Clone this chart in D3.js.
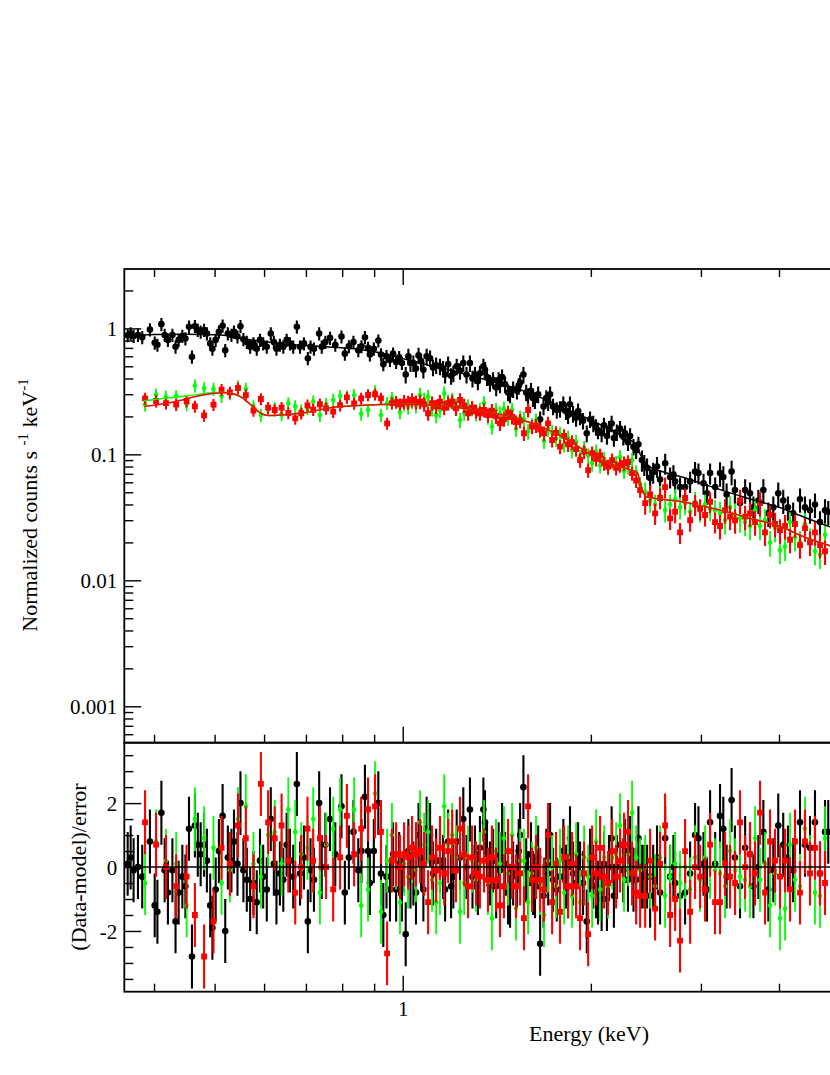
<!DOCTYPE html>
<html><head><meta charset="utf-8">
<script src="https://cdn.jsdelivr.net/npm/d3@7"></script>
<style>html,body{margin:0;padding:0;background:#fff;overflow:hidden}svg{display:block}
svg text{font-family:"Liberation Serif","DejaVu Serif","Times New Roman",serif;}</style>
</head><body>
<svg id="c" width="830" height="1075"></svg>
<script>
// ---------- DATA ----------
const blackE = [0.363,0.367,0.371,0.377,0.383,0.394,0.401,0.405,0.411,0.416,0.421,0.428,0.433,0.438,0.444,0.449,0.455,0.460,0.465,0.470,0.475,0.481,0.486,0.492,0.496,0.502,0.508,0.515,0.520,0.525,0.532,0.537,0.544,0.550,0.556,0.563,0.570,0.577,0.584,0.591,0.598,0.606,0.615,0.622,0.628,0.636,0.644,0.652,0.660,0.668,0.677,0.685,0.695,0.705,0.712,0.721,0.735,0.742,
0.752,0.765,0.780,0.798,0.808,0.820,0.834,0.849,0.859,0.870,0.880,0.886,0.899,0.914,0.923,0.931,0.942,0.954,0.965,0.976,0.987,0.997,1.011,
1.021,1.029,1.040,1.050,1.060,1.070,1.079,1.092,1.106,1.118,1.131,1.147,1.160,1.169,1.182,1.195,1.205,1.220,1.235,1.250,1.265,1.281,1.293,1.305,1.319,1.329,1.346,1.354,1.364,1.379,1.395,1.411,1.424,1.431,1.442,1.458,1.474,1.485,1.502,1.523,1.533,1.541,1.560,1.576,1.587,1.604,1.616,1.628,1.647,1.659,1.680,1.697,1.709,1.721,1.740,1.764,1.785,1.807,1.825,1.839,1.852,1.873,1.894,1.908,1.922,1.943,1.970,1.994,2.018,2.038,2.053,2.081,2.099,2.122,2.138,2.159,2.177,2.201,2.227,2.254,2.268,2.293,2.311,2.340,2.363,2.383,
2.414,2.435,2.460,2.488,2.516,2.552,2.581,2.630,2.678,2.711,2.728,2.778,2.830,2.883,2.936,2.973,3.029,3.068,3.103,3.162,3.219,3.258,3.298,3.359,3.400,3.465,3.531,3.595,3.640,3.707,3.776,3.846,3.917,3.989,4.063,4.134,4.214,4.322,4.402,4.484,4.567,4.652,4.739,4.796];
const blackRate = [0.88,0.91,0.87,0.885,0.85,0.98,0.77,0.74,1.08,0.885,0.81,0.885,0.715,0.81,0.87,0.83,1.03,0.595,1.04,0.97,0.94,0.97,0.91,0.76,0.69,0.81,0.94,1.05,0.67,0.91,0.885,0.94,0.86,1.04,0.82,0.78,0.715,0.76,0.69,0.81,0.76,0.715,0.91,0.78,0.69,0.74,0.715,0.81,0.76,0.715,1.03,0.715,0.76,0.58,0.715,0.69,0.91,0.715,
0.78,0.84,0.74,0.86,0.63,0.72,0.78,0.67,0.72,0.85,0.70,0.62,0.69,0.80,0.62,0.52,0.60,0.56,0.63,0.54,0.59,0.53,0.43,
0.60,0.53,0.53,0.48,0.61,0.55,0.47,0.60,0.58,0.49,0.51,0.50,0.48,0.43,0.52,0.42,0.44,0.50,0.46,0.53,0.43,0.53,0.40,0.43,0.38,0.44,0.50,0.47,0.41,0.37,0.39,0.34,0.39,0.36,0.41,0.36,0.31,0.30,0.33,0.32,0.35,0.37,0.43,0.31,0.29,0.32,0.28,0.27,0.30,0.19,0.24,0.28,0.26,0.30,0.24,0.225,0.23,0.25,0.22,0.205,0.25,0.21,0.195,0.22,0.20,0.185,0.147,0.19,0.176,0.165,0.155,0.147,0.17,0.14,0.16,0.176,0.135,0.15,0.16,0.138,0.147,0.125,0.14,0.115,0.108,0.12,
0.09,0.083,0.078,0.065,0.072,0.08,0.063,0.085,0.066,0.069,0.061,0.055,0.055,0.061,0.073,0.071,0.059,0.049,0.071,0.055,0.071,0.066,0.048,0.073,0.052,0.041,0.052,0.049,0.038,0.043,0.052,0.034,0.038,0.049,0.043,0.038,0.034,0.044,0.038,0.036,0.040,0.029,0.036,0.035];
const blackResid = [0.1,0.3,-0.1,0.0,-0.3,0.8,-1.2,-1.4,1.7,-0.1,-0.8,-0.1,-1.7,-0.8,-0.3,-0.6,1.2,-2.8,1.3,0.7,0.4,0.7,0.2,-1.2,-1.9,-0.7,0.5,1.6,-2.0,0.3,0.2,0.8,0.1,2.0,-0.1,-0.4,-1.0,-0.5,-1.1,0.2,-0.3,-0.7,1.5,0.1,-0.8,-0.2,-0.4,0.7,0.2,-0.3,2.6,-0.2,0.3,-1.7,-0.1,-0.4,2.0,0.0,
0.7,1.5,0.4,1.9,-0.8,0.3,1.1,-0.1,0.5,2.2,0.5,-0.5,0.5,2.0,-0.2,-1.5,-0.3,-0.7,0.4,-0.7,0.1,-0.7,-2.1,
0.5,-0.3,-0.2,-0.8,1.0,0.3,-0.7,1.2,1.0,-0.2,0.2,0.2,0.0,-0.7,0.8,-0.6,-0.3,0.8,0.3,1.5,0.0,1.8,-0.3,0.3,-0.5,0.6,1.8,1.4,0.4,-0.2,0.2,-0.6,0.4,-0.1,1.0,0.1,-0.8,-0.9,-0.2,-0.3,0.5,1.0,2.5,-0.1,-0.5,0.4,-0.5,-0.6,0.3,-2.4,-0.9,0.2,-0.2,1.0,-0.4,-0.7,-0.3,0.5,-0.3,-0.6,0.9,-0.2,-0.5,0.4,-0.2,-0.5,-1.7,0.2,-0.3,-0.6,-0.8,-1.0,0.1,-1.0,0.0,0.9,-0.9,0.0,0.7,-0.1,0.5,-0.4,0.6,-0.4,-0.4,0.9,
-0.3,-0.3,-0.3,-0.9,-0.3,0.3,-0.8,0.9,-0.3,0.0,-0.5,-0.9,-0.8,-0.2,1.0,0.9,0.1,-0.7,1.4,0.1,1.6,1.2,-0.3,2.1,0.3,-0.6,0.6,0.4,-0.6,0.0,1.1,-0.7,-0.1,1.3,0.7,0.3,-0.1,1.4,0.7,0.6,1.4,-0.2,1.1,1.1];

// red and green spectra share one energy grid
const mosE = [0.387,0.403,0.418,0.434,0.451,0.465,0.481,0.498,0.513,0.529,0.545,0.561,0.577,0.593,0.609,0.624,0.640,0.656,0.673,0.688,0.704,0.719,0.737,0.754,0.774,0.794,0.814,0.836,0.858,0.880,0.903,0.923,0.944,0.961,0.976,0.990,1.005,1.020,1.035,1.050,1.066,1.082,1.098,1.114,1.131,1.147,1.165,1.182,1.200,1.217,1.235,1.254,1.272,1.291,1.310,1.329,1.349,1.369,1.389,1.410,1.431,1.452,1.474,1.496,1.518,1.541,1.563,1.587,1.610,1.634,1.659,1.683,1.708,1.734,1.759,1.785,1.812,1.839,1.866,1.894,1.922,1.951,1.980,2.009,2.039,2.069,2.100,2.131,2.163,2.195,2.227,2.260,2.294,2.328,2.363,2.398,2.443,2.488,2.534,2.581,2.629,2.678,2.728,2.778,2.830,2.883,2.936,2.991,3.046,3.103,3.160,3.219,3.279,3.340,3.402,3.465,3.530,3.595,3.662,3.730,3.799,3.870,3.942,4.015,4.090,4.166,4.243,4.322,4.402,4.484,4.567,4.652,4.739];
const redRate = [0.278,0.265,0.255,0.248,0.265,0.24,0.204,0.248,0.326,0.31,0.336,0.295,0.223,0.275,0.235,0.225,0.235,0.213,0.193,0.212,0.245,0.226,0.25,0.232,0.218,0.246,0.283,0.254,0.278,0.296,0.30,0.278,0.176,0.255,0.26,0.25,0.262,0.258,0.27,0.26,0.262,0.25,0.212,0.255,0.24,0.262,0.235,0.255,0.262,0.232,0.27,0.245,0.212,0.235,0.22,0.212,0.225,0.205,0.222,0.20,0.176,0.19,0.215,0.198,0.18,0.185,0.147,0.225,0.166,0.17,0.158,0.147,0.176,0.13,0.148,0.115,0.14,0.12,0.125,0.11,0.09,0.105,0.075,0.102,0.092,0.098,0.085,0.08,0.09,0.078,0.082,0.085,0.087,0.071,0.062,0.052,0.041,0.048,0.034,0.045,0.055,0.031,0.035,0.024,0.045,0.03,0.04,0.037,0.033,0.042,0.029,0.027,0.036,0.032,0.03,0.043,0.032,0.034,0.029,0.041,0.024,0.033,0.028,0.025,0.027,0.021,0.028,0.019,0.026,0.02,0.024,0.019,0.017];
const redResid = [1.4,0.7,0.0,-0.6,-0.3,-1.5,-2.8,-1.7,0.6,0.1,1.3,0.9,-0.6,2.6,1.4,0.9,1.3,0.2,-0.8,0.0,1.2,0.2,0.9,0.0,-0.7,0.3,1.6,0.4,1.2,1.8,1.9,1.1,-2.7,0.2,0.4,0.0,0.4,0.3,0.6,0.4,0.5,0.1,-1.1,0.3,-0.1,0.6,-0.2,0.5,0.8,-0.1,1.2,0.4,-0.6,0.3,-0.2,-0.3,0.2,-0.4,0.3,-0.4,-1.2,-0.6,0.5,0.0,-0.6,-0.2,-1.6,1.9,-0.4,0.0,-0.4,-0.7,1.0,-1.1,0.1,-1.4,0.3,-0.6,0.1,-0.6,-1.6,-0.2,-2.1,0.3,-0.2,0.6,-0.3,-0.5,0.5,-0.3,0.2,0.7,1.1,-0.2,-0.8,-0.9,-0.9,0.2,-1.3,0.1,1.3,-1.5,-1.0,-2.3,0.5,-1.4,0.0,-0.3,-0.7,0.7,-1.1,-1.1,0.1,-0.3,-0.5,1.4,0.0,0.4,-0.2,1.7,-0.8,0.8,0.2,-0.3,0.2,-0.7,0.8,-0.8,0.8,-0.2,0.6,-0.2,-0.5];
const greenRate = [0.249,0.298,0.285,0.29,0.25,0.35,0.334,0.33,0.29,0.305,0.345,0.33,0.24,0.205,0.228,0.232,0.208,0.254,0.24,0.222,0.232,0.262,0.205,0.25,0.27,0.29,0.287,0.295,0.21,0.225,0.315,0.205,0.255,0.28,0.26,0.216,0.255,0.24,0.265,0.245,0.296,0.27,0.285,0.232,0.205,0.225,0.305,0.262,0.27,0.245,0.187,0.215,0.24,0.232,0.212,0.225,0.254,0.20,0.166,0.225,0.21,0.23,0.195,0.225,0.16,0.195,0.19,0.152,0.17,0.185,0.155,0.128,0.16,0.15,0.133,0.145,0.12,0.135,0.108,0.125,0.095,0.112,0.098,0.085,0.105,0.082,0.092,0.079,0.088,0.085,0.095,0.074,0.08,0.09,0.072,0.058,0.05,0.043,0.04,0.047,0.036,0.04,0.044,0.038,0.041,0.035,0.042,0.036,0.04,0.037,0.036,0.034,0.03,0.038,0.033,0.031,0.029,0.027,0.036,0.027,0.03,0.02,0.026,0.0174,0.0185,0.029,0.022,0.02,0.028,0.021,0.017,0.016,0.023];
const greenResid = [-0.5,0.8,0.2,0.1,-1.2,1.5,0.9,0.6,-0.5,-0.1,1.5,1.9,0.1,-0.3,1.0,1.1,0.1,1.8,1.1,0.4,0.6,1.5,-0.8,0.7,1.2,1.8,1.6,1.8,-1.2,-0.7,2.3,-1.4,0.2,1.0,0.3,-1.1,0.1,-0.3,0.5,-0.1,1.4,0.7,1.1,-0.4,-1.1,-0.5,1.9,0.7,1.0,0.3,-1.4,-0.5,0.3,0.2,-0.4,0.1,1.1,-0.5,-1.6,0.5,0.1,0.9,-0.2,1.0,-1.3,0.2,0.2,-1.1,-0.2,0.6,-0.5,-1.5,0.2,0.0,-0.6,0.2,-0.8,0.3,-0.9,0.4,-1.1,0.3,-0.3,-0.9,0.8,-0.7,0.3,-0.6,0.3,0.4,1.3,-0.4,0.4,1.7,0.3,-0.1,0.0,-0.3,-0.6,0.3,-0.9,-0.3,0.1,-0.5,0.0,-0.7,0.3,-0.4,0.3,0.0,-0.1,-0.2,-0.6,0.5,-0.1,-0.3,-0.4,-0.6,0.9,-0.4,0.1,-1.2,-0.2,-1.6,-1.3,0.7,-0.4,-0.6,1.2,0.0,-0.8,-0.9,0.9];

// relative 1-sigma error of the count rates, by energy band [upper E, fraction]
const blackErr = [[1.0,0.12],[2.4,0.15],[3.2,0.19],[10,0.22]];
const redErr   = [[1.0,0.11],[2.4,0.13],[3.2,0.19],[10,0.22]];
const greenErr = [[1.0,0.12],[2.4,0.14],[3.2,0.20],[10,0.23]];

// folded model curves
const blackModelE = [0.358,0.40,0.45,0.50,0.53,0.56,0.60,0.66,0.75,0.85,0.92,1.0,1.1,1.2,1.3,1.4,1.5,1.6,1.7,1.8,1.9,2.0,2.1,2.2,2.3,2.36,2.40,2.45,2.5,2.6,2.7,2.8,3.0,3.2,3.5,3.8,4.0,4.3,4.6,5.0];
const blackModelV = [0.87,0.895,0.90,0.89,0.87,0.825,0.785,0.745,0.715,0.68,0.64,0.575,0.51,0.46,0.415,0.375,0.34,0.305,0.27,0.235,0.21,0.187,0.167,0.15,0.132,0.12,0.10,0.085,0.078,0.073,0.069,0.066,0.059,0.053,0.046,0.041,0.038,0.033,0.029,0.025];
const redModelE = [0.386,0.41,0.44,0.47,0.50,0.52,0.535,0.55,0.57,0.59,0.61,0.64,0.70,0.77,0.85,1.0,1.1,1.2,1.3,1.4,1.5,1.6,1.7,1.8,1.9,2.0,2.1,2.2,2.3,2.37,2.41,2.45,2.6,2.8,3.0,3.3,3.6,4.0,4.4,4.8,5.0];
const redModelV = [0.24,0.25,0.268,0.29,0.305,0.308,0.303,0.287,0.25,0.215,0.203,0.205,0.215,0.235,0.244,0.25,0.246,0.238,0.226,0.212,0.197,0.178,0.158,0.138,0.117,0.099,0.088,0.081,0.076,0.072,0.055,0.046,0.044,0.042,0.039,0.035,0.031,0.027,0.022,0.019,0.018];
const greenModelE = [0.386,0.42,0.45,0.48,0.50,0.52,0.535,0.55,0.57,0.59,0.61,0.64,0.70,0.77,0.85,1.0,1.1,1.2,1.3,1.4,1.5,1.6,1.7,1.8,1.9,2.0,2.1,2.2,2.3,2.37,2.41,2.45,2.6,2.8,3.0,3.3,3.6,4.0,4.4,4.8,5.0];
const greenModelV = [0.266,0.28,0.29,0.303,0.31,0.31,0.304,0.287,0.25,0.215,0.203,0.205,0.215,0.235,0.244,0.25,0.246,0.238,0.226,0.212,0.197,0.178,0.158,0.138,0.117,0.099,0.088,0.081,0.076,0.072,0.055,0.046,0.044,0.042,0.039,0.035,0.031,0.027,0.022,0.019,0.018];

// axis labels
const xTickLabels = {1:"1"};
const yTopTickLabels = {1:"1", 0.1:"0.1", 0.01:"0.01", 0.001:"0.001"};
const yResTickLabels = {"-2":"-2", "0":"0", "2":"2"};
const xTitle = "Energy (keV)";
const yResTitle = "(Data-model)/error";

// ---------- LAYOUT ----------
const FONT = "Liberation Serif, DejaVu Serif, Times New Roman, serif";
const L = 124.3, R = 1027.7, T1 = 269, B1 = 742.7, T2 = 742.7, B2 = 991.7;
const COL = {black:"#000000", red:"#ff0000", green:"#00ff00"};

const svg = d3.select("#c");
const x = d3.scaleLog().domain([0.3585, 10]).range([L, R]);
const yTop = d3.scaleLog().domain([5.14e-4, 2.96]).range([B1, T1]);
const yRes = d3.scaleLinear().domain([-3.9, 3.89]).range([B2, T2]);

const defs = svg.append("defs");
defs.append("clipPath").attr("id","clipTop").append("rect").attr("x",L).attr("y",T1).attr("width",R-L).attr("height",B1-T1);
defs.append("clipPath").attr("id","clipBot").append("rect").attr("x",L).attr("y",T2).attr("width",R-L).attr("height",B2-T2);

const isDecade = v => Math.abs(Math.log10(v) - Math.round(Math.log10(v))) < 1e-6;
const relErr = (E, bands) => bands.find(b => E <= b[0])[1];

// ---------- DATA LAYERS ----------
const topG = svg.append("g").attr("clip-path","url(#clipTop)");
const botG = svg.append("g").attr("clip-path","url(#clipBot)");

function series(E, rate, resid, bands, color, shape, barW){
  const pts = E.map((e,i)=>({e, v:rate[i], r:resid[i], s:relErr(e,bands)}));
  const gt = topG.append("g");
  gt.selectAll("line").data(pts).join("line")
    .attr("x1",d=>x(d.e)).attr("x2",d=>x(d.e))
    .attr("y1",d=>yTop(d.v*(1-d.s))).attr("y2",d=>yTop(d.v*(1+d.s)))
    .attr("stroke",color).attr("stroke-width",barW);
  const gb = botG.append("g");
  gb.selectAll("line").data(pts).join("line")
    .attr("x1",d=>x(d.e)).attr("x2",d=>x(d.e))
    .attr("y1",d=>yRes(d.r-1)).attr("y2",d=>yRes(d.r+1))
    .attr("stroke",color).attr("stroke-width",barW);
  const sym = d3.symbol().type(shape.type).size(shape.size);
  gt.selectAll("path").data(pts).join("path")
    .attr("d",sym).attr("fill",color)
    .attr("transform",d=>`translate(${x(d.e)},${yTop(d.v)})`);
  gb.selectAll("path").data(pts).join("path")
    .attr("d",sym).attr("fill",color)
    .attr("transform",d=>`translate(${x(d.e)},${yRes(d.r)})`);
}
series(blackE, blackRate, blackResid, blackErr, COL.black, {type:d3.symbolCircle,size:34}, 2.1);
series(mosE, greenRate, greenResid, greenErr, COL.green, {type:d3.symbolDiamond,size:22}, 1.8);
series(mosE, redRate, redResid, redErr, COL.red, {type:d3.symbolSquare,size:34}, 2.1);

// model curves
const modelLine = d3.line().x(d=>x(d[0])).y(d=>yTop(d[1])).curve(d3.curveMonotoneX);
[[blackModelE,blackModelV,COL.black],[greenModelE,greenModelV,COL.green],[redModelE,redModelV,COL.red]]
 .forEach(([E,V,c])=>{
   topG.append("path").datum(E.map((e,i)=>[e,V[i]]))
     .attr("d",modelLine).attr("fill","none").attr("stroke",c).attr("stroke-width",1.5);
 });

// zero line in residual panel
botG.append("line").attr("x1",L).attr("x2",R).attr("y1",yRes(0)).attr("y2",yRes(0))
  .attr("stroke","#000").attr("stroke-width",1.5);

// ---------- AXES ----------
const xt = x.ticks().filter(v => x(v) < 830);
const xMaj = xt.filter(isDecade), xMin = xt.filter(v=>!isDecade(v));
const yt = yTop.ticks();
const yMaj = yt.filter(isDecade), yMin = yt.filter(v=>!isDecade(v));
const rt = yRes.ticks(16);
const rMaj = rt.filter(v=>Math.abs(v%2)<1e-9), rMin = rt.filter(v=>Math.abs(v%2)>=1e-9);

function ax(gen, vals, size, fmt, tx, ty, pad){
  const a = gen.tickValues(vals).tickSize(size).tickSizeOuter(0).tickPadding(pad||7).tickFormat(fmt||(()=>""));
  const g = svg.append("g").attr("transform",`translate(${tx},${ty})`).call(a);
  g.select(".domain").remove();
  g.attr("font-family",null).attr("font-size",null);
  g.selectAll(".tick line").attr("stroke","#000").attr("stroke-width",1.4);
  g.selectAll("text").style("font-family",FONT).style("font-size","21px").attr("fill","#000");
  return g;
}
// top panel: x ticks top & bottom edge, y ticks left
ax(d3.axisTop(x), xMin, -8, null, 0, T1);
ax(d3.axisTop(x), xMaj, -16, null, 0, T1);
ax(d3.axisBottom(x), xMin, -8, null, 0, B1);
ax(d3.axisBottom(x), xMaj, -16, null, 0, B1);
ax(d3.axisLeft(yTop), yMin, -9, null, L, 0);
ax(d3.axisLeft(yTop), yMaj, -17, d=>yTopTickLabels[d], L, 0, 7).selectAll("text").attr("dy","0.34em");
// residual panel
ax(d3.axisBottom(x), xMin, -8, null, 0, B2);
ax(d3.axisBottom(x), xMaj, -16, d=>xTickLabels[d]||"", 0, B2, 9);
ax(d3.axisLeft(yRes), rMin, -9, null, L, 0);
ax(d3.axisLeft(yRes), rMaj, -17, d=>yResTickLabels[String(d)], L, 0, 7).selectAll("text").attr("dy","0.34em");

// frames
svg.append("rect").attr("x",L).attr("y",T1).attr("width",R-L).attr("height",B1-T1)
  .attr("fill","none").attr("stroke","#000").attr("stroke-width",1.8);
svg.append("rect").attr("x",L).attr("y",T2).attr("width",R-L).attr("height",B2-T2)
  .attr("fill","none").attr("stroke","#000").attr("stroke-width",1.8);

// titles
svg.append("text").attr("x",589).attr("y",1041).attr("text-anchor","middle")
  .style("font-family",FONT).style("font-size","22px").text(xTitle);
svg.append("text").attr("transform","translate(86,867) rotate(-90)").attr("text-anchor","middle")
  .style("font-family",FONT).style("font-size","22px").text(yResTitle);
const yt1 = svg.append("text").attr("transform","translate(37,505) rotate(-90)").attr("text-anchor","middle")
  .style("font-family",FONT).style("font-size","22px");
yt1.append("tspan").text("Normalized counts s ");
yt1.append("tspan").attr("dy",-9).style("font-size","15px").text("-1");
yt1.append("tspan").attr("dy",9).text(" keV");
yt1.append("tspan").attr("dy",-9).style("font-size","15px").text("-1");
</script>
</body></html>
